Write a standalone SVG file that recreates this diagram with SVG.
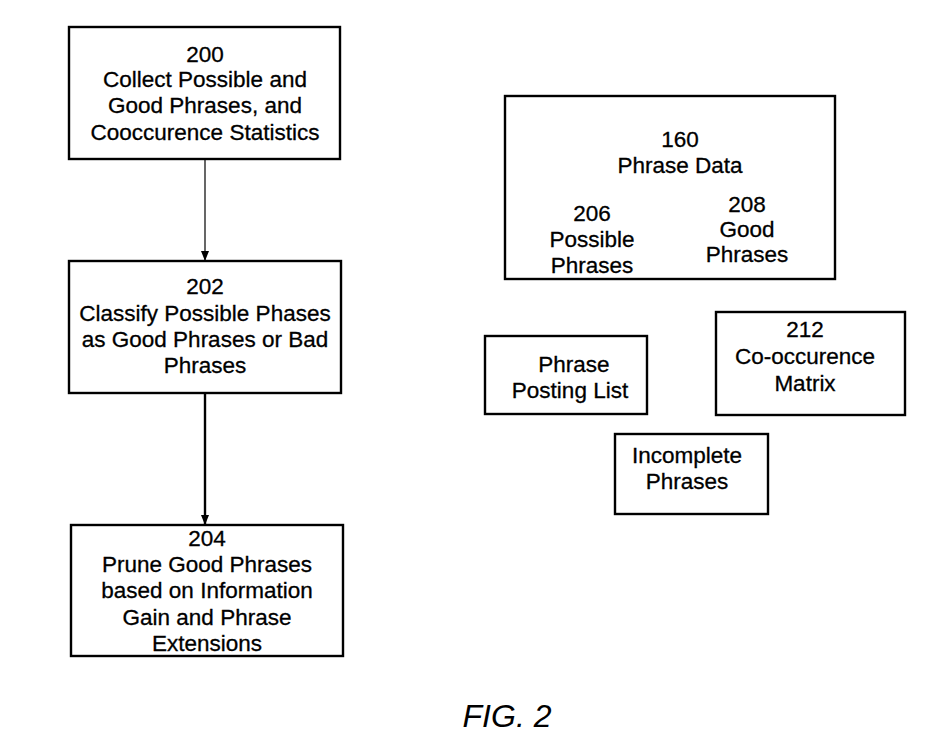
<svg xmlns="http://www.w3.org/2000/svg" width="947" height="749" viewBox="0 0 947 749">
<style>
.box{fill:#fff;stroke:#000;stroke-width:2.4}
.t{font-family:"Liberation Sans",Arial,sans-serif;font-size:22.5px;fill:#000;stroke:#000;stroke-width:0.3;text-anchor:middle}
.fig{font-family:"Liberation Sans",Arial,sans-serif;font-size:32px;font-style:italic;fill:#000;text-anchor:middle}
.c{stroke:#000;fill:none}
</style>
<defs>
<marker id="ah" viewBox="0 0 10 10" refX="10" refY="5" markerWidth="10" markerHeight="10" markerUnits="userSpaceOnUse" orient="auto">
<path d="M0,1 L10,5 L0,9 Z" fill="#000"/>
</marker>
</defs>
<rect width="947" height="749" fill="#fff"/>
<g id="connectors">
<line class="c" x1="205" y1="159" x2="205" y2="261" stroke-width="1.2" marker-end="url(#ah)"/>
<line class="c" x1="205" y1="393" x2="205" y2="525" stroke-width="2.4" marker-end="url(#ah)"/>
</g>
<g id="n200">
<rect class="box" x="69" y="27" width="271" height="132"/>
<text class="t" x="205" y="62">200</text>
<text class="t" x="205" y="87">Collect Possible and</text>
<text class="t" x="205" y="113">Good Phrases, and</text>
<text class="t" x="205" y="140">Cooccurence Statistics</text>
</g>
<g id="n202">
<rect class="box" x="69" y="261" width="272" height="132"/>
<text class="t" x="205" y="294">202</text>
<text class="t" x="205" y="321">Classify Possible Phases</text>
<text class="t" x="205" y="347">as Good Phrases or Bad</text>
<text class="t" x="205" y="373">Phrases</text>
</g>
<g id="n204">
<rect class="box" x="71" y="525" width="272" height="131"/>
<text class="t" x="207" y="546">204</text>
<text class="t" x="207" y="572">Prune Good Phrases</text>
<text class="t" x="207" y="598">based on Information</text>
<text class="t" x="207" y="625">Gain and Phrase</text>
<text class="t" x="207" y="651">Extensions</text>
</g>
<g id="n160">
<rect class="box" x="505" y="96" width="330" height="183"/>
<text class="t" x="680" y="147">160</text>
<text class="t" x="680" y="173">Phrase Data</text>
<text class="t" x="592" y="221">206</text>
<text class="t" x="592" y="247">Possible</text>
<text class="t" x="592" y="273">Phrases</text>
<text class="t" x="747" y="212">208</text>
<text class="t" x="747" y="237">Good</text>
<text class="t" x="747" y="262">Phrases</text>
</g>
<g id="posting">
<rect class="box" x="485" y="336" width="162" height="78"/>
<text class="t" x="574" y="372">Phrase</text>
<text class="t" x="570" y="398">Posting List</text>
</g>
<g id="n212">
<rect class="box" x="716" y="312" width="189" height="103"/>
<text class="t" x="805" y="337">212</text>
<text class="t" x="805" y="364">Co-occurence</text>
<text class="t" x="805" y="391">Matrix</text>
</g>
<g id="incomplete">
<rect class="box" x="615" y="434" width="153" height="80"/>
<text class="t" x="687" y="463">Incomplete</text>
<text class="t" x="687" y="489">Phrases</text>
</g>
<text class="fig" x="507" y="727">FIG. 2</text>
</svg>
